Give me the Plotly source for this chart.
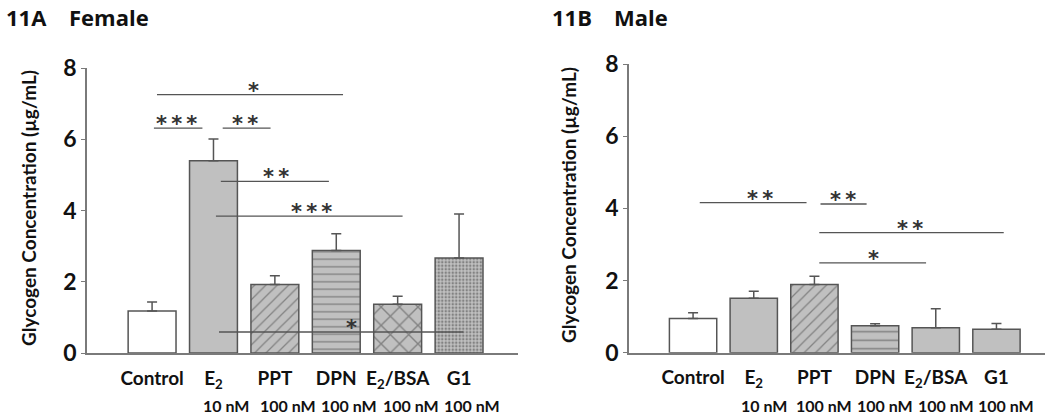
import plotly.graph_objects as go

# ---- data ----
categories = ["Control", "E<sub>2</sub>", "PPT", "DPN", "E<sub>2</sub>/BSA", "G1"]
doses = ["", "10 nM", "100 nM", "100 nM", "100 nM", "100 nM"]

female_mean = [1.18, 5.40, 1.92, 2.88, 1.37, 2.67]
female_err = [0.25, 0.61, 0.25, 0.47, 0.22, 1.23]
male_mean = [0.95, 1.51, 1.89, 0.75, 0.69, 0.65]
male_err = [0.16, 0.19, 0.23, 0.05, 0.53, 0.16]

# significance brackets: start, end (category index), y, stars, star x
female_sig_x0 = [0.08, 0.03, 1.15, 1.12, 1.04, 1.09]
female_sig_x1 = [3.11, 0.82, 1.93, 2.88, 4.08, 5.07]
female_sig_y = [7.25, 6.31, 6.31, 4.82, 3.84, 0.59]
female_sig_n = [1, 3, 2, 2, 3, 1]
female_sig_lx = [1.65, 0.40, 1.51, 2.02, 2.59, 3.25]

male_sig_x0 = [0.11, 2.10, 2.08, 2.08]
male_sig_x1 = [1.87, 2.86, 5.12, 3.84]
male_sig_y = [4.16, 4.12, 3.33, 2.49]
male_sig_n = [2, 2, 2, 1]
male_sig_lx = [1.10, 2.47, 3.58, 2.98]

y_ticks = [0, 2, 4, 6, 8]
y_title = "Glycogen Concentration (µg/mL)"

# ---- geometry helpers (body margin removed via post_script) ----
W, H = 1050, 417


def px_x(sx):
    return sx / W


def px_y(sy):
    return 1 - sy / H


# ---- styles ----
GRAY = "#c0c0c0"
EDGE = "#555555"
AX = "#7a7a7a"
FONT = "Lato"
TXT = "#111111"

female_colors = ["white", GRAY, GRAY, GRAY, GRAY, GRAY]
female_shapes = ["", "", "/", "-", "x", "."]
female_psize = [8, 8, 8, 7.5, 13, 3.5]
female_solid = [0.2, 0.2, 0.16, 0.18, 0.2, 0.4]

male_colors = ["white", GRAY, GRAY, GRAY, GRAY, GRAY]
male_shapes = ["", "", "/", "-", "", ""]
male_psize = [8, 8, 8, 8.5, 8, 8]
male_solid = [0.2, 0.2, 0.16, 0.18, 0.2, 0.2]

xpos = list(range(len(categories)))

fig = go.Figure()


def add_panel(mean, err, colors, shapes, psize, solid, xa, ya):
    fig.add_trace(go.Bar(
        x=xpos, y=mean, width=0.78,
        marker=dict(color=colors, line=dict(color=EDGE, width=1.5),
                    pattern=dict(shape=shapes, fgcolor="#444444", size=psize,
                                 solidity=solid)),
        error_y=dict(type="data", array=err, arrayminus=[0] * len(err),
                     symmetric=False, color=EDGE, thickness=1.5, width=5),
        xaxis=xa, yaxis=ya, showlegend=False, hoverinfo="skip"))


add_panel(female_mean, female_err, female_colors, female_shapes,
          female_psize, female_solid, "x", "y")
add_panel(male_mean, male_err, male_colors, male_shapes,
          male_psize, male_solid, "x2", "y2")


def add_sig(x0s, x1s, ys, ns, lxs, xa, ya):
    for x0, x1, y, n, lx in zip(x0s, x1s, ys, ns, lxs):
        fig.add_trace(go.Scatter(
            x=[x0, x1], y=[y, y], mode="lines",
            line=dict(color="#555555", width=1.3),
            xaxis=xa, yaxis=ya, showlegend=False, hoverinfo="skip"))
        lab = "\u2009".join(["*"] * n)
        fig.add_annotation(x=lx, y=y, xref=xa, yref=ya, text="<b>" + lab + "</b>",
                           showarrow=False, yanchor="bottom", yshift=-10,
                           font=dict(family="DejaVu Sans", size=21,
                                     color="#333333"))


add_sig(female_sig_x0, female_sig_x1, female_sig_y, female_sig_n,
        female_sig_lx, "x", "y")
add_sig(male_sig_x0, male_sig_x1, male_sig_y, male_sig_n,
        male_sig_lx, "x2", "y2")

xaxis_common = dict(
    tickmode="array", tickvals=xpos,
    ticktext=["<b>" + c + "</b>" for c in categories],
    showline=True, linecolor=AX, linewidth=1.5, ticks="",
    showgrid=False, zeroline=False, ticklabelstandoff=7, automargin=False,
    tickfont=dict(family=FONT, size=19, color=TXT))
yaxis_common = dict(
    range=[0, 8], tickmode="array", tickvals=y_ticks,
    ticktext=["<b>%d</b>" % v for v in y_ticks],
    showline=True, linecolor=AX, automargin=False,
    linewidth=1.5, ticks="outside", ticklen=4, tickcolor=AX,
    showgrid=False, zeroline=False,
    tickfont=dict(family=FONT, size=23, color=TXT))

fig.update_layout(
    width=W, height=H,
    margin=dict(l=0, r=0, t=0, b=0, autoexpand=False),
    plot_bgcolor="white", paper_bgcolor="white",
    font=dict(family=FONT, color=TXT),
    xaxis=dict(domain=[px_x(87), px_x(518)], range=[-1.06, 5.96],
               anchor="y", **xaxis_common),
    yaxis=dict(domain=[px_y(353), px_y(68)], anchor="x",
               **yaxis_common),
    xaxis2=dict(domain=[px_x(629), px_x(1045)], range=[-1.056, 5.80],
                anchor="y2", **xaxis_common),
    yaxis2=dict(domain=[px_y(352.7), px_y(64)], anchor="x2",
                **yaxis_common),
)

# y-axis titles (rotated)
for sx, sy in ((28, 208), (568, 205)):
    fig.add_annotation(x=px_x(sx), y=px_y(sy), xref="paper", yref="paper",
                       text="<b>" + y_title + "</b>", textangle=-90,
                       showarrow=False, xanchor="center", yanchor="middle",
                       font=dict(family=FONT, size=19, color=TXT))

# dose labels under the category names
for xa, shift in (("x", 13), ("x2", 10)):
    for xp, d in zip(xpos, doses):
        if d:
            fig.add_annotation(x=xp, y=px_y(405), xref=xa, yref="paper",
                               yanchor="middle", xshift=shift,
                               text="<b>" + d + "</b>", showarrow=False,
                               font=dict(family=FONT, size=16, color=TXT))

# panel titles
titles = [("<b>11A</b>", 4), ("<b>Female</b>", 67),
          ("<b>11B</b>", 550), ("<b>Male</b>", 612)]
for t, sx in titles:
    fig.add_annotation(x=px_x(sx), y=1, xref="paper",
                       yref="paper", text=t, showarrow=False,
                       xanchor="left", yanchor="top",
                       font=dict(family="Open Sans", size=22, color=TXT))

fig.write_html("out.html",
               config={"displayModeBar": False},
               post_script="document.body.style.margin='0px';")
